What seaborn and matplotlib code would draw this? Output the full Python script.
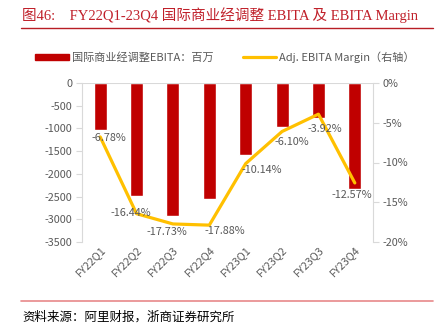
import matplotlib
matplotlib.use("Agg")
import matplotlib.pyplot as plt
import seaborn as sns
import pandas as pd
from matplotlib.lines import Line2D
from matplotlib.patches import Patch

categories = ["FY22Q1", "FY22Q2", "FY22Q3", "FY22Q4", "FY23Q1", "FY23Q2", "FY23Q3", "FY23Q4"]
ebita = [-1035, -2490, -2920, -2560, -1585, -975, -780, -2340]
margin = [-6.78, -16.44, -17.73, -17.88, -10.14, -6.10, -3.92, -12.57]
left_ticks = [0, -500, -1000, -1500, -2000, -2500, -3000, -3500]
right_ticks = [0, -5, -10, -15, -20]

bar_label = "国际商业经调整EBITA：百万"
line_label = "Adj. EBITA Margin（右轴）"
title = "图46:    FY22Q1-23Q4 国际商业经调整 EBITA 及 EBITA Margin"
source = "资料来源：阿里财报，浙商证券研究所"

sns.set_style("white")
CJK = ["Noto Sans CJK SC", "DejaVu Sans"]
SERIF = ["Liberation Serif", "Noto Sans CJK SC"]
plt.rcParams["font.family"] = CJK

BAR = "#C00000"
LINE = "#FFC000"
GRAY = "#595959"

df = pd.DataFrame({"cat": categories, "ebita": ebita, "margin": margin})

fig = plt.figure(figsize=(4.36, 3.28), dpi=100)
ax = fig.add_axes([82/436, 1-242/328, (373-82)/436, (242-83)/328])

sns.barplot(data=df, x="cat", y="ebita", color=BAR, width=0.36, ax=ax, saturation=1)
ax.set_ylim(-3500, 0)
ax.set_xlim(-0.5, 7.5)
ax.set_yticks(left_ticks)
ax.set_yticklabels([str(v) for v in left_ticks])
ax.set_xlabel("")
ax.set_ylabel("")
ax.axhline(0, color="#D9D9D9", lw=1.5, zorder=5)

for s in ["top", "right", "bottom"]:
    ax.spines[s].set_visible(False)
ax.spines["left"].set_color("#D9D9D9")
ax.tick_params(axis="y", length=4, width=0.8, color="#D9D9D9", labelsize=7.8, labelcolor=GRAY, pad=3, left=True)
ax.tick_params(axis="x", length=0, labelsize=7.8, labelcolor=GRAY, pad=2)
for lbl in ax.get_xticklabels():
    lbl.set_rotation(45)
    lbl.set_ha("right")
    lbl.set_rotation_mode("anchor")

ax2 = ax.twinx()
sns.lineplot(data=df, x="cat", y="margin", color=LINE, lw=2.3, ax=ax2, sort=False)
ax2.set_ylim(-20, 0)
ax2.set_xlim(-0.5, 7.5)
ax2.set_yticks(right_ticks)
ax2.set_yticklabels([f"{v}%" for v in right_ticks])
ax2.set_ylabel("")
ax2.set_xlabel("")
for s in ["top", "left", "bottom"]:
    ax2.spines[s].set_visible(False)
ax2.spines["right"].set_color("#D9D9D9")
ax2.tick_params(axis="y", length=4, width=0.8, color="#D9D9D9", labelsize=7.8, labelcolor=GRAY, pad=3, right=True)

offsets = [(9, -1), (-6, 1), (-6, -8), (15, -6), (16, -6), (10, -11), (6, -15), (-3, -12)]
for i, (v, off) in enumerate(zip(margin, offsets)):
    ax2.annotate(f"{v:.2f}%", (i, v), xytext=off, textcoords="offset pixels",
                 ha="center", va="center", fontsize=7.8, color=GRAY, zorder=10)

handles = [Patch(facecolor=BAR, edgecolor=BAR), Line2D([0], [0], color=LINE, lw=2.3)]
fig.legend(handles, [bar_label, line_label], loc="center", bbox_to_anchor=(225/436, 1-57/328),
           ncol=2, frameon=False, fontsize=8, labelcolor=GRAY, handlelength=3.0,
           handleheight=0.5, columnspacing=2.6, handletextpad=0.3)

fig.text(22/436, 1-15/328, title, fontsize=10.5, color="#C0202A", family=SERIF, va="center", ha="left")
fig.add_artist(Line2D([21/436, 433/436], [1-28/328, 1-28/328], color="#B81D24", lw=1.0))
fig.add_artist(Line2D([21/436, 433/436], [1-301/328, 1-301/328], color="#E8898A", lw=1.2))
fig.text(22/436, 1-317/328, source, fontsize=9, color="black", family=SERIF, va="center", ha="left")

fig.savefig("out.png", dpi=100)
